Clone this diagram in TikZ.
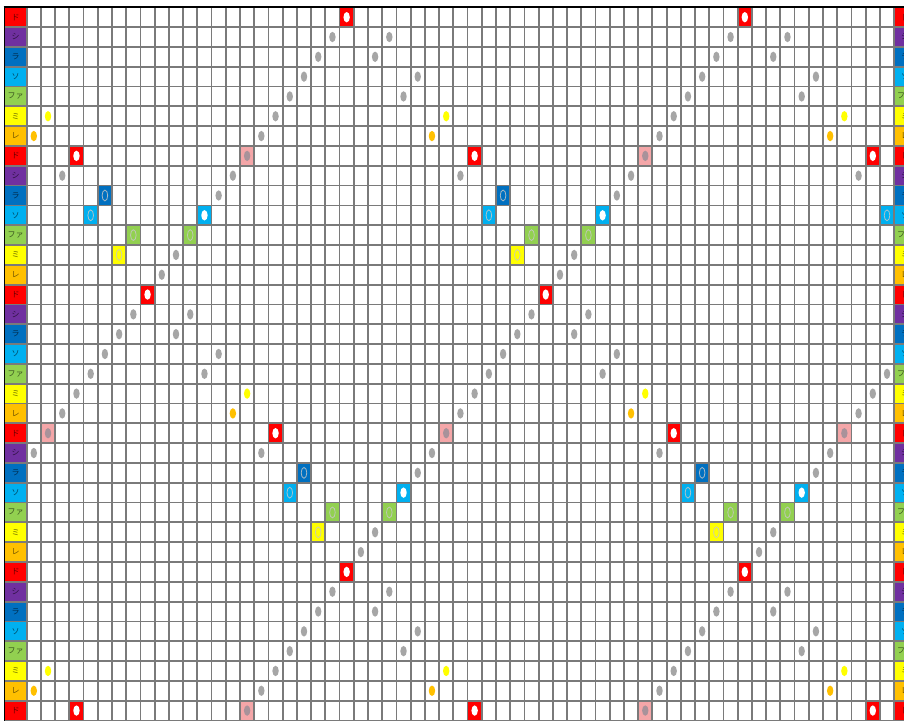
\documentclass[tikz,border=0pt]{standalone}
\usepackage{fontspec}
\newfontfamily\jpfont{Noto Sans CJK JP}
\definecolor{cDo}{HTML}{FF0000}
\definecolor{cSi}{HTML}{7030A0}
\definecolor{cRa}{HTML}{0070C0}
\definecolor{cSo}{HTML}{00B0F0}
\definecolor{cFa}{HTML}{92D050}
\definecolor{cMi}{HTML}{FFFF00}
\definecolor{cRe}{HTML}{FFC000}
\definecolor{gridgray}{HTML}{7A7A7A}
\definecolor{dotgray}{HTML}{A6A6A6}
\definecolor{pinkbox}{HTML}{F4A6A8}
\definecolor{pinkdot}{HTML}{A8929A}
\newcommand\gcw{14.22}
\newcommand\grh{19.81}
\newcommand\gxo{26.7}
\newcommand\gyo{7.3}
\newcommand\cellbox[3]{\fill[#1] ({\gxo+\gcw*#2},{\gyo+\grh*#3}) rectangle ++(\gcw,\grh);}
\newcommand\ovalmk[3]{\path[#1] ({\gxo+\gcw*(#2+0.5)},{\gyo+\grh*(#3+0.5)}) ellipse [x radius=3.2, y radius=5.2];}
\newcommand\ovalline[3]{\path[draw=white!55!gray, draw opacity=0.85, line width=0.8] ({\gxo+\gcw*(#2+0.5)},{\gyo+\grh*(#3+0.5)}) ellipse [x radius=2.8, y radius=5.4];}
\newcommand\mkR[2]{\cellbox{cDo}{#1}{#2}\ovalmk{fill=white}{#1}{#2}}
\newcommand\mkP[2]{\cellbox{pinkbox}{#1}{#2}\ovalmk{fill=pinkdot}{#1}{#2}}
\newcommand\mkG[2]{\ovalmk{fill=dotgray}{#1}{#2}}
\newcommand\mkY[2]{\ovalmk{fill=cMi}{#1}{#2}}
\newcommand\mkO[2]{\ovalmk{fill=cRe}{#1}{#2}}
\newcommand\mkB[2]{\cellbox{cRa}{#1}{#2}\ovalline{}{#1}{#2}}
\newcommand\mkC[2]{\cellbox{cSo}{#1}{#2}\ovalline{}{#1}{#2}}
\newcommand\mkW[2]{\cellbox{cSo}{#1}{#2}\ovalmk{fill=white}{#1}{#2}}
\newcommand\mkF[2]{\cellbox{cFa}{#1}{#2}\ovalline{}{#1}{#2}}
\newcommand\mkM[2]{\cellbox{cMi}{#1}{#2}\ovalline{}{#1}{#2}}
\begin{document}
\begin{tikzpicture}[x=1pt,y=-1pt,
  gridline/.style={draw=gridgray, line width=1.8},
  lbl/.style={font=\jpfont\fontsize{8}{8}\selectfont, text=black, text opacity=0.6, inner sep=0}]
\useasboundingbox (0,0) rectangle (904,720);
\clip (0,0) rectangle (904,720);
\fill[white] (0,0) rectangle (904,720);
% label column fills
\foreach \b in {0,...,5}{
  \foreach \i/\col in {0/cDo,1/cSi,2/cRa,3/cSo,4/cFa,5/cMi,6/cRe}{
    \pgfmathtruncatemacro\rr{7*\b+\i}
    \ifnum\rr<36
      \fill[\col] (4,{\gyo+\grh*\rr}) rectangle (\gxo,{\gyo+\grh*(\rr+1)});
      \fill[\col] ({\gxo+\gcw*61},{\gyo+\grh*\rr}) rectangle (930,{\gyo+\grh*(\rr+1)});
    \fi
  }
}
% markers
\foreach \br/\k/\t in {0/22/R,1/21/G,1/25/G,2/20/G,2/24/G,3/19/G,3/27/G,4/18/G,4/26/G,5/1/Y,5/17/G,6/0/O,6/16/G,7/3/R,7/15/P,8/2/G,8/14/G,9/5/B,9/13/G,10/4/C,10/12/W,11/7/F,11/11/F,12/6/M,12/10/G,13/9/G}{
  \foreach \ro/\sh in {0/0,14/14,28/0}{
    \foreach \m in {-1,0,1,2}{
      \pgfmathtruncatemacro\rr{\br+\ro}
      \pgfmathtruncatemacro\cc{\k+\sh+28*\m}
      \ifnum\rr<36 \ifnum\cc>-1 \ifnum\cc<61
        \csname mk\t\endcsname{\cc}{\rr}
      \fi\fi\fi
    }
  }
}
% grid
\foreach \i in {0,...,61}{
  \draw[gridline] ({\gxo+\gcw*\i},\gyo) -- ({\gxo+\gcw*\i},725);
}
\foreach \j in {0,...,36}{
  \draw[gridline] (4,{\gyo+\grh*\j}) -- (930,{\gyo+\grh*\j});
}
% label texts
\foreach \b in {0,...,5}{
  \foreach \i/\txt in {0/ド,1/シ,2/ラ,3/ソ,4/ファ,5/ミ,6/レ}{
    \pgfmathtruncatemacro\rr{7*\b+\i}
    \ifnum\rr<36
      \node[lbl] (L\rr) at (15.6,{\gyo+\grh*(\rr+0.5)}) {\txt};
      \node[lbl] (R\rr) at (905,{\gyo+\grh*(\rr+0.5)}) {\txt};
    \fi
  }
}
% borders
\draw[black, line width=1.8] (3.7,7.3) -- (904,7.3);
\draw[black, line width=1.5] (4.6,6.4) -- (4.6,722);
\end{tikzpicture}
\end{document}
